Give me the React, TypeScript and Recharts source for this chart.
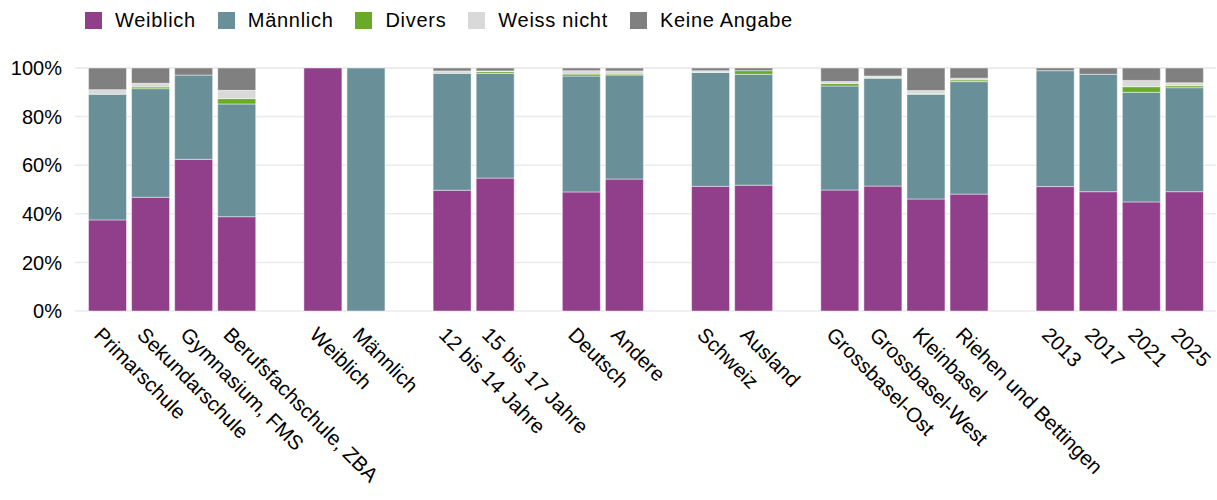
import React from "react";
import { BarChart, Bar, XAxis, YAxis, CartesianGrid, Legend } from "recharts";

const categories = [
  "Primarschule", "Sekundarschule", "Gymnasium, FMS", "Berufsfachschule, ZBA", "_g1",
  "Weiblich", "Männlich", "_g2",
  "12 bis 14 Jahre", "15 bis 17 Jahre", "_g3",
  "Deutsch", "Andere", "_g4",
  "Schweiz", "Ausland", "_g5",
  "Grossbasel-Ost", "Grossbasel-West", "Kleinbasel", "Riehen und Bettingen", "_g6",
  "2013", "2017", "2021", "2025",
];

const weiblich = [37.5, 46.8, 62.4, 38.8, null, 100, 0, null, 49.7, 54.7, null, 49.0, 54.3, null, 51.3, 51.8, null, 49.8, 51.4, 46.1, 48.1, null, 51.2, 49.1, 44.9, 49.1];
const maennlich = [51.7, 44.7, 34.7, 46.4, null, 0, 100, null, 48.1, 43.1, null, 47.7, 42.8, null, 46.9, 45.6, null, 42.8, 44.4, 43.1, 46.3, null, 47.7, 48.3, 45.1, 42.8];
const divers = [0, 0.7, 0, 2.2, null, 0, 0, null, 0, 0.7, null, 0.8, 0.4, null, 0.1, 1.5, null, 1.0, 0.2, 0.2, 0.7, null, 0, 0, 2.3, 0.8];
const weissNicht = [1.9, 1.5, 0, 3.4, null, 0, 0, null, 1.0, 0.3, null, 1.4, 1.3, null, 0.6, 0, null, 0.8, 0.7, 1.3, 0.7, null, 0, 0, 2.6, 1.2];
const keineAngabe = [8.9, 6.3, 2.9, 9.2, null, 0, 0, null, 1.2, 1.2, null, 1.1, 1.2, null, 1.1, 1.1, null, 5.6, 3.3, 9.3, 4.2, null, 1.1, 2.6, 5.1, 6.1];

const yTicks = [0, 20, 40, 60, 80, 100];

const series = [
  { key: "weiblich", name: "Weiblich", color: "#923f8b", values: weiblich },
  { key: "maennlich", name: "Männlich", color: "#699099", values: maennlich },
  { key: "divers", name: "Divers", color: "#6aaa2b", values: divers },
  { key: "weissNicht", name: "Weiss nicht", color: "#d9d9d9", values: weissNicht },
  { key: "keineAngabe", name: "Keine Angabe", color: "#808080", values: keineAngabe },
];

const data = categories.map((c, i) => {
  const row: Record<string, any> = { cat: c };
  series.forEach((s) => {
    row[s.key] = s.values[i];
  });
  return row;
});

const FONT = "'Liberation Sans', Arial, sans-serif";

const XTick = (props: any) => {
  const { x, y, payload } = props;
  const v: string = payload.value;
  if (v.startsWith("_g")) return null;
  return (
    <g transform={`translate(${x - 14},${y + 25}) rotate(45)`}>
      <text x={0} y={0} textAnchor="start" fontSize={20.5} fontFamily={FONT} fill="#000">
        {v}
      </text>
    </g>
  );
};

const LegendContent = () => (
  <div style={{ height: 58, display: "flex", alignItems: "flex-start", fontFamily: FONT, fontSize: 20, letterSpacing: "0.7px", color: "#000" }}>
    {series.map((s) => (
      <div key={s.key} style={{ display: "flex", alignItems: "center", marginRight: 22, height: 20 }}>
        <span style={{ display: "inline-block", width: 17, height: 17, background: s.color, marginRight: 13 }} />
        <span style={{ lineHeight: "20px" }}>{s.name}</span>
      </div>
    ))}
  </div>
);

export default function App() {
  return (
    <div style={{ position: "absolute", left: 0, top: 0, background: "#fff" }}>
      <BarChart
        width={1217}
        height={500}
        data={data}
        margin={{ top: 10, right: 1, bottom: 0, left: 0 }}
        barSize={38}
      >
        <Legend
          verticalAlign="top"
          align="left"
          content={<LegendContent />}
          wrapperStyle={{ left: 85, width: 1100 }}
        />
        <CartesianGrid vertical={false} stroke="#ebebeb" strokeWidth={1.5} />
        <XAxis
          dataKey="cat"
          interval={0}
          tickLine={false}
          axisLine={false}
          tickSize={0}
          tickMargin={0}
          height={189}
          padding={{ left: 10.5, right: 10.5 }}
          tick={<XTick />}
        />
        <YAxis
          domain={[0, 100]}
          ticks={yTicks}
          width={75}
          tickLine={false}
          axisLine={false}
          tickSize={0}
          tickMargin={13}
          tickFormatter={(v: number) => `${v}%`}
          tick={{ fontSize: 20, fontFamily: FONT, fill: "#000" }}
        />
        {series.map((s) => (
          <Bar
            key={s.key}
            dataKey={s.key}
            name={s.name}
            stackId="a"
            fill={s.color}
            stroke="rgba(255,255,255,0.45)"
            strokeWidth={1}
            isAnimationActive={false}
          />
        ))}
      </BarChart>
    </div>
  );
}
